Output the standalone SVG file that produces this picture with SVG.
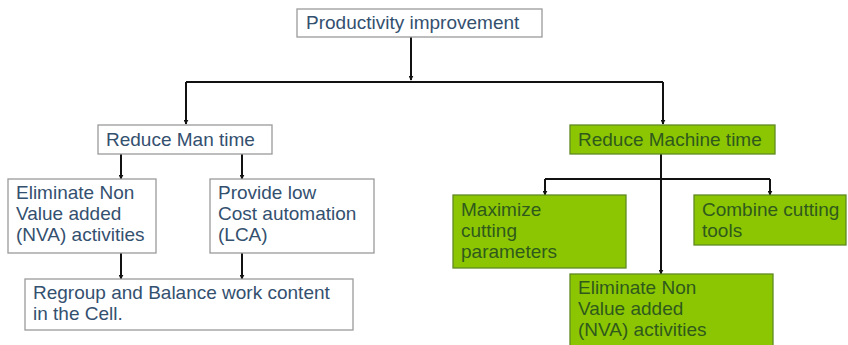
<svg xmlns="http://www.w3.org/2000/svg" width="848" height="345" viewBox="0 0 848 345">
<defs>
<marker id="ah" viewBox="0 0 8 8" refX="7" refY="4" markerWidth="5" markerHeight="5" orient="auto" markerUnits="userSpaceOnUse">
<path d="M0,0 L8,4 L0,8 z" fill="#111"/>
</marker>
<style>
.wb{fill:#fff;stroke:#9a9a9a;stroke-width:1.3}
.gb{fill:#8cc603;stroke:#5f8a22;stroke-width:1.3}
.bt{font-family:"Liberation Sans",Arial,sans-serif;font-size:19px;fill:#34506f}
.gt{font-family:"Liberation Sans",Arial,sans-serif;font-size:19px;fill:#2f5a1c}
.c{fill:none;stroke:#111;stroke-width:2}
</style>
</defs>
<rect width="848" height="345" fill="#fff"/>
<g id="connectors">
<path class="c" d="M411,37 V80" marker-end="url(#ah)"/>
<path class="c" d="M186,82 H663"/>
<path class="c" d="M186,82 V124" marker-end="url(#ah)"/>
<path class="c" d="M663,82 V124" marker-end="url(#ah)"/>
<path class="c" d="M121,154 V179" marker-end="url(#ah)"/>
<path class="c" d="M242,154 V179" marker-end="url(#ah)"/>
<path class="c" d="M121,253 V279" marker-end="url(#ah)"/>
<path class="c" d="M242,253 V279" marker-end="url(#ah)"/>
<path class="c" d="M661,154 V274" marker-end="url(#ah)"/>
<path class="c" d="M545,179 H770"/>
<path class="c" d="M545,179 V195" marker-end="url(#ah)"/>
<path class="c" d="M770,179 V195" marker-end="url(#ah)"/>
</g>
<g id="productivity">
<rect class="wb" x="297" y="9" width="245" height="28"/>
<text class="bt" x="306" y="29">Productivity improvement</text>
</g>
<g id="man">
<rect class="wb" x="98" y="125" width="174" height="29"/>
<text class="bt" x="106" y="146">Reduce Man time</text>
</g>
<g id="machine">
<rect class="gb" x="570" y="125" width="205" height="29"/>
<text class="gt" x="578" y="146">Reduce Machine time</text>
</g>
<g id="eliminate-left">
<rect class="wb" x="8" y="179" width="148" height="74"/>
<text class="bt" x="16" y="199">Eliminate Non</text>
<text class="bt" x="16" y="220">Value added</text>
<text class="bt" x="16" y="241">(NVA) activities</text>
</g>
<g id="lca">
<rect class="wb" x="210" y="179" width="164" height="74"/>
<text class="bt" x="218" y="199">Provide low</text>
<text class="bt" x="218" y="220">Cost automation</text>
<text class="bt" x="218" y="241">(LCA)</text>
</g>
<g id="regroup">
<rect class="wb" x="25" y="279" width="328" height="51"/>
<text class="bt" x="33" y="299">Regroup and Balance work content</text>
<text class="bt" x="33" y="320">in the Cell.</text>
</g>
<g id="maximize">
<rect class="gb" x="453" y="195" width="173" height="73"/>
<text class="gt" x="461" y="216">Maximize</text>
<text class="gt" x="461" y="237">cutting</text>
<text class="gt" x="461" y="258">parameters</text>
</g>
<g id="combine">
<rect class="gb" x="694" y="195" width="152" height="50"/>
<text class="gt" x="702" y="216">Combine cutting</text>
<text class="gt" x="702" y="237">tools</text>
</g>
<g id="eliminate-right">
<rect class="gb" x="570" y="274" width="203" height="80"/>
<text class="gt" x="578" y="294">Eliminate Non</text>
<text class="gt" x="578" y="315">Value added</text>
<text class="gt" x="578" y="336">(NVA) activities</text>
</g>
</svg>
